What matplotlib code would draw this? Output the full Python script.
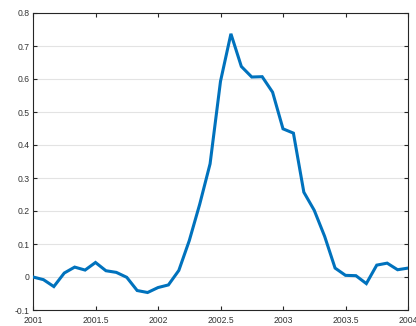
import numpy as np
import matplotlib
matplotlib.use("Agg")
import matplotlib.pyplot as plt

plt.rcParams['font.family'] = ['Liberation Sans', 'DejaVu Sans']

# Monthly observations, Jan 2001 through Jan 2004
start_year = 2001.0
values = [
    0.000, -0.008, -0.029, 0.012, 0.030, 0.021, 0.044, 0.019, 0.014, -0.001,
    -0.041, -0.047, -0.032, -0.024, 0.020, 0.110, 0.220, 0.343, 0.593, 0.737,
    0.638, 0.606, 0.607, 0.560, 0.449, 0.436, 0.257, 0.202, 0.123, 0.027,
    0.005, 0.004, -0.020, 0.036, 0.042, 0.022, 0.027,
]
x_ticks = [2001, 2001.5, 2002, 2002.5, 2003, 2003.5, 2004]
x_tick_labels = ["2001", "2001.5", "2002", "2002.5", "2003", "2003.5", "2004"]
y_ticks = [-0.1, 0, 0.1, 0.2, 0.3, 0.4, 0.5, 0.6, 0.7, 0.8]
y_tick_labels = ["-0.1", "0", "0.1", "0.2", "0.3", "0.4", "0.5", "0.6", "0.7", "0.8"]

t = start_year + np.arange(len(values)) / 12.0

fig = plt.figure(figsize=(4.16, 3.26), dpi=100)
ax = fig.add_axes([33 / 416, 16 / 326, 375 / 416, 297 / 326])

ax.plot(t, values, color='#0072BD', linewidth=2.2, solid_joinstyle='miter', zorder=3)

ax.set_xlim(2001, 2004)
ax.set_ylim(-0.1, 0.8)
ax.set_xticks(x_ticks)
ax.set_xticklabels(x_tick_labels)
ax.set_yticks(y_ticks)
ax.set_yticklabels(y_tick_labels)

ax.yaxis.grid(True, color='#e3e3e3', linewidth=0.8, zorder=0)
ax.xaxis.grid(False)
ax.set_axisbelow(True)

edge = '#262626'
for s in ax.spines.values():
    s.set_color(edge)
    s.set_linewidth(0.8)
ax.tick_params(axis='both', which='both', direction='in', top=True, right=True,
               length=3, width=0.8, color=edge, labelsize=6.2, labelcolor='#333333')
ax.tick_params(axis='x', pad=4.5)
ax.tick_params(axis='y', pad=2.5)

fig.savefig('out.png', dpi=100)
